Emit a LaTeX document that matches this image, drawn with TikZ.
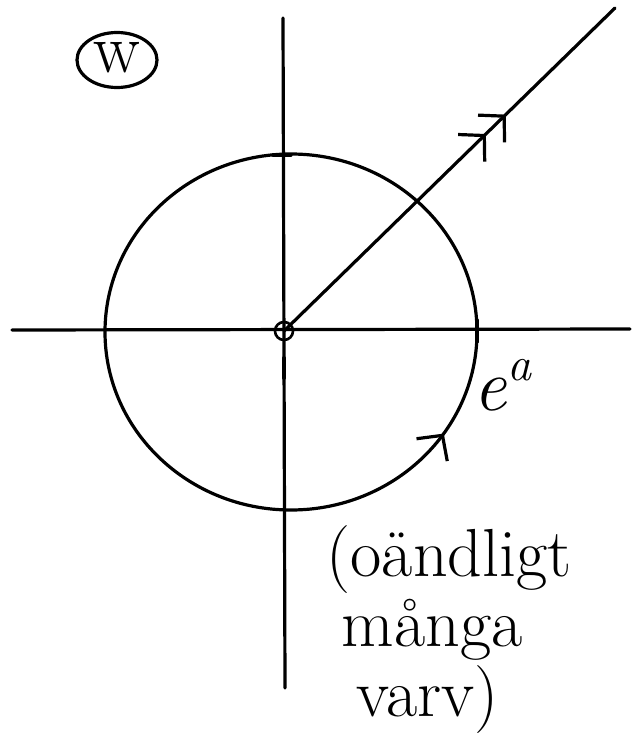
\documentclass[tikz,border=0pt]{standalone}
\usetikzlibrary{arrows.meta,shapes.geometric,decorations.markings}
\tikzset{
    hand/.style={line width=3.2pt, line cap=round},
    vbarb/.tip={Straight Barb[length=18pt,width=38pt,line width=3.2pt]},
    big/.style={font=\fontsize{68}{70}\selectfont}
}
\newcommand{\expa}{\textit{e}\raisebox{30pt}{\fontsize{48}{50}\selectfont\textit{a}}}
\begin{document}
\begin{tikzpicture}[x=1pt, y=-1pt, hand]
    \useasboundingbox (0,0) rectangle (633,733);
    \draw (12,330) -- (630,329);
    \draw (283,18) -- (285,688);
    \node[draw, circle, minimum size=18pt, inner sep=0pt, line width=2.6pt] (o) at (284,331) {};
    \coordinate (far) at (615,8);
    \draw[postaction={decorate}, decoration={markings,
        mark=at position 0.61 with {\arrow{vbarb}},
        mark=at position 0.67 with {\arrow{vbarb}}}] (o.center) -- (far);
    \draw[postaction={decorate}, decoration={markings,
        mark=at position 0.095 with {\arrowreversed{vbarb}}}]
        (291,332) ellipse [x radius=186, y radius=178];
    \draw (273,155) -- (291,155);
    \draw (477,320) -- (477,342);
    \draw[line width=4pt] (284,358) -- (284,378);
    \node[font=\fontsize{74}{74}\selectfont, anchor=base west, inner sep=0pt] (ea) at (472,410) {\expa};
    \node[draw, ellipse, minimum width=80pt, minimum height=55pt, inner sep=0pt,
        font=\fontsize{70}{70}\selectfont] (w) at (117,60) {\raisebox{5pt}{w}};
    \node[big, anchor=north west, align=left, inner sep=0pt] (note) at (325,524)
        {(oändligt\\\hspace{15pt}många\\\hspace{30pt}varv)};
\end{tikzpicture}
\end{document}
